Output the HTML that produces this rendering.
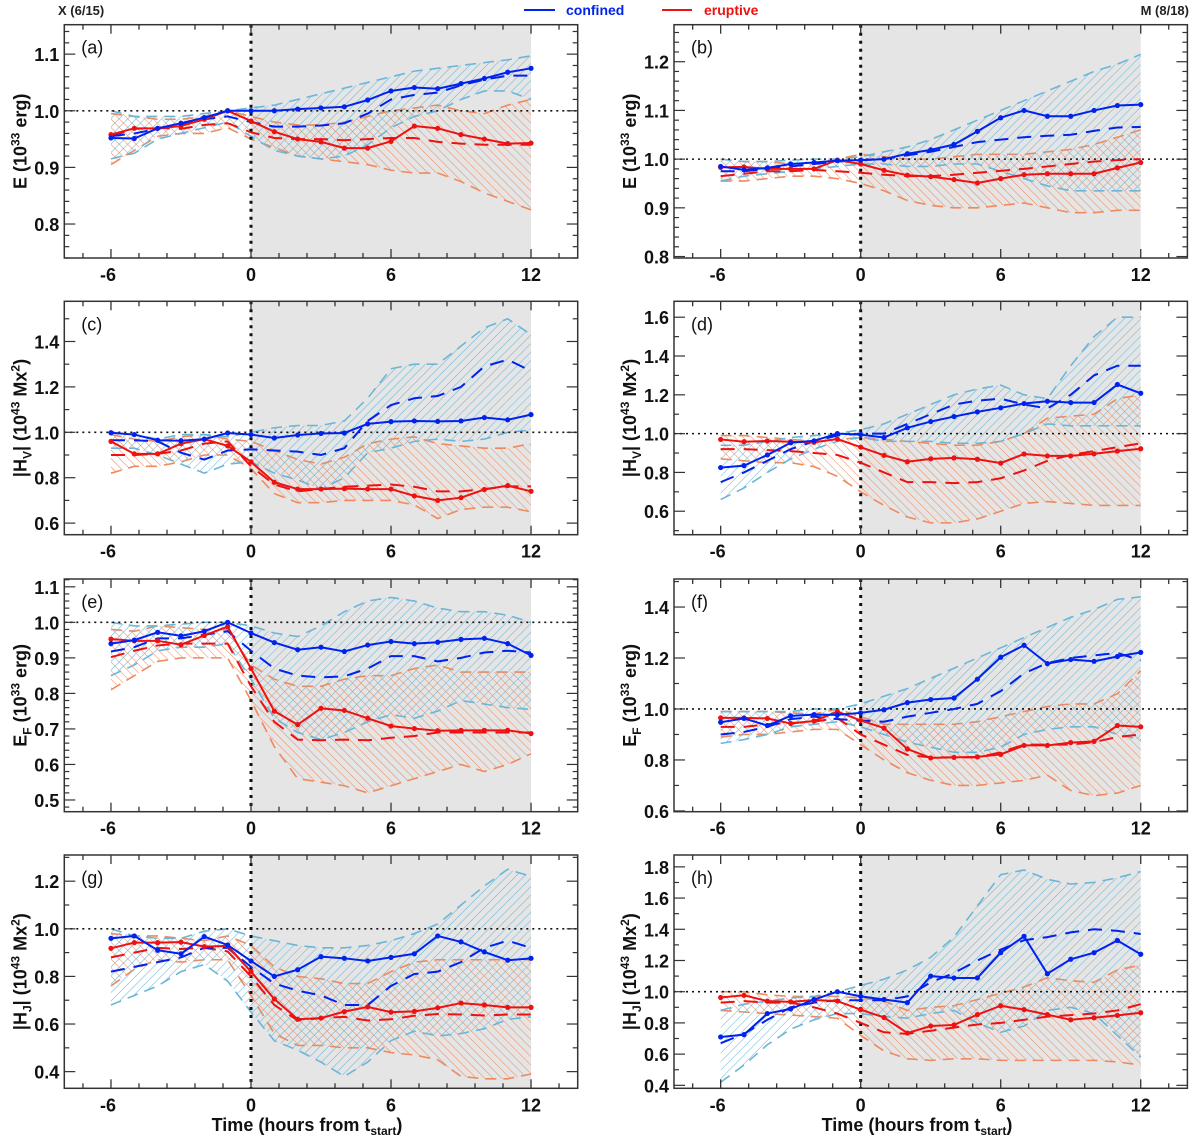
<!DOCTYPE html>
<html><head><meta charset="utf-8"><title>Energy and helicity evolution</title>
<style>
html,body{margin:0;padding:0;background:#fff;}
svg{display:block;font-family:"Liberation Sans",Arial,sans-serif;}
</style></head>
<body>
<svg id="chart" width="1200" height="1139" viewBox="0 0 1200 1139" xmlns="http://www.w3.org/2000/svg">
<defs>
<pattern id="hatchBlue" patternUnits="userSpaceOnUse" width="6" height="6" patternTransform="rotate(45)">
<line x1="0" y1="0" x2="0" y2="6" stroke="#6bb6d8" stroke-width="1.1"/>
</pattern>
<pattern id="hatchRed" patternUnits="userSpaceOnUse" width="6" height="6" patternTransform="rotate(-45)">
<line x1="0" y1="0" x2="0" y2="6" stroke="#ee8a5e" stroke-width="1.1"/>
</pattern>
</defs>
<g>
<text x="58" y="15" font-size="13" font-weight="bold" fill="#222">X (6/15)</text>
<line x1="524" y1="10" x2="555" y2="10" stroke="#0022ee" stroke-width="2"/>
<text x="566" y="15" font-size="14" font-weight="bold" fill="#0022ee">confined</text>
<line x1="662" y1="10" x2="692" y2="10" stroke="#ee1111" stroke-width="2"/>
<text x="704" y="15" font-size="14" font-weight="bold" fill="#ee1111">eruptive</text>
<text x="1189" y="15" font-size="13" font-weight="bold" fill="#222" text-anchor="end">M (8/18)</text>
</g>
<text x="307" y="1131" font-size="18" font-weight="bold" text-anchor="middle" fill="#111">Time  (hours from t<tspan font-size="12" dy="4">start</tspan><tspan dy="-4">)</tspan></text>
<text x="917" y="1131" font-size="18" font-weight="bold" text-anchor="middle" fill="#111">Time  (hours from t<tspan font-size="12" dy="4">start</tspan><tspan dy="-4">)</tspan></text>
</svg>
<script>
const hours = [-6,-5,-4,-3,-2,-1,0,1,2,3,4,5,6,7,8,9,10,11,12];
const xTicks = [-6,0,6,12];

// panel (a)
const a_conf = [0.952,0.951,0.969,0.978,0.988,1.0,1.0,1.0,1.003,1.005,1.007,1.019,1.035,1.041,1.039,1.048,1.057,1.068,1.075];
const a_erup = [0.958,0.969,0.969,0.973,0.985,1.0,0.982,0.963,0.950,0.945,0.934,0.934,0.946,0.973,0.969,0.958,0.950,0.942,0.943];
const a_confMed = [0.955,0.96,0.968,0.975,0.985,0.99,0.98,0.972,0.972,0.974,0.978,0.995,1.02,1.028,1.032,1.045,1.055,1.062,1.062];
const a_erupMed = [0.955,0.968,0.97,0.968,0.975,0.978,0.962,0.952,0.95,0.95,0.948,0.95,0.952,0.952,0.945,0.942,0.94,0.94,0.94];
const a_confHi = [1.0,0.99,0.99,0.99,0.995,1.0,1.005,1.01,1.02,1.03,1.04,1.05,1.06,1.07,1.075,1.08,1.085,1.09,1.097];
const a_confLo = [0.915,0.925,0.95,0.96,0.97,0.98,0.955,0.93,0.92,0.915,0.92,0.94,0.97,0.99,1.0,1.02,1.035,1.035,1.02];
const a_erupHi = [0.995,0.99,0.985,0.985,0.99,1.0,0.99,0.98,0.975,0.975,0.98,0.99,1.0,1.005,1.01,1.0,0.995,1.01,1.02];
const a_erupLo = [0.905,0.93,0.955,0.96,0.96,0.97,0.95,0.935,0.92,0.915,0.91,0.905,0.895,0.89,0.89,0.875,0.855,0.84,0.825];
const a_ticks = [0.8,0.9,1.0,1.1];

// panel (b)
const b_conf = [0.985,0.978,0.982,0.99,0.993,0.997,0.998,1.0,1.011,1.019,1.03,1.057,1.085,1.1,1.088,1.088,1.1,1.11,1.112];
const b_erup = [0.983,0.984,0.98,0.98,0.98,0.998,0.99,0.977,0.967,0.964,0.958,0.951,0.96,0.968,0.97,0.97,0.97,0.982,0.993];
const b_confMed = [0.975,0.975,0.98,0.985,0.99,0.995,0.998,1.0,1.008,1.015,1.025,1.035,1.04,1.045,1.048,1.05,1.058,1.065,1.066];
const b_erupMed = [0.965,0.97,0.975,0.975,0.978,0.975,0.972,0.968,0.965,0.965,0.968,0.972,0.976,0.98,0.985,0.99,0.995,0.998,1.0];
const b_confHi = [1.0,0.995,0.995,0.998,1.0,1.0,1.005,1.015,1.025,1.04,1.06,1.08,1.1,1.12,1.14,1.16,1.18,1.195,1.215];
const b_confLo = [0.955,0.965,0.97,0.975,0.98,0.985,0.99,0.99,0.985,0.985,0.99,0.99,0.975,0.96,0.945,0.935,0.935,0.935,0.935];
const b_erupHi = [1.0,0.995,0.995,0.99,0.99,1.0,1.01,1.005,1.0,1.0,1.005,1.01,1.01,1.01,1.015,1.02,1.03,1.045,1.06];
const b_erupLo = [0.955,0.955,0.96,0.965,0.965,0.96,0.95,0.935,0.915,0.905,0.9,0.9,0.905,0.91,0.9,0.89,0.89,0.895,0.895];
const b_ticks = [0.8,0.9,1.0,1.1,1.2];

// panel (c)
const c_conf = [0.998,0.99,0.965,0.963,0.97,0.997,0.99,0.975,0.988,0.995,0.997,1.037,1.047,1.05,1.048,1.05,1.065,1.055,1.078];
const c_erup = [0.96,0.905,0.905,0.95,0.97,0.94,0.87,0.78,0.75,0.75,0.752,0.75,0.75,0.72,0.70,0.712,0.748,0.765,0.74];
const c_confMed = [0.965,0.965,0.96,0.91,0.88,0.92,0.925,0.92,0.915,0.9,0.93,1.05,1.12,1.15,1.16,1.2,1.29,1.32,1.27];
const c_erupMed = [0.9,0.9,0.905,0.92,0.95,0.96,0.85,0.77,0.74,0.75,0.76,0.765,0.77,0.76,0.74,0.74,0.75,0.762,0.762];
const c_confHi = [1.0,0.99,0.97,0.99,0.99,0.98,1.0,1.02,1.03,1.03,1.05,1.15,1.28,1.3,1.3,1.38,1.46,1.5,1.43];
const c_confLo = [0.93,0.93,0.9,0.86,0.82,0.86,0.87,0.82,0.79,0.75,0.8,0.91,0.93,0.96,0.97,0.96,0.97,1.0,1.01];
const c_erupHi = [0.99,0.97,0.96,0.98,0.99,0.97,0.96,0.92,0.88,0.86,0.89,0.95,0.97,0.98,0.95,0.94,0.93,0.93,0.95];
const c_erupLo = [0.82,0.85,0.85,0.87,0.9,0.9,0.84,0.73,0.69,0.69,0.7,0.7,0.7,0.68,0.62,0.66,0.67,0.67,0.65];
const c_ticks = [0.6,0.8,1.0,1.2,1.4];

// panel (d)
const d_conf = [0.825,0.835,0.89,0.953,0.963,1.0,0.995,0.98,1.03,1.062,1.088,1.112,1.133,1.155,1.167,1.16,1.16,1.253,1.208];
const d_erup = [0.97,0.958,0.962,0.958,0.955,0.972,0.93,0.888,0.855,0.87,0.875,0.868,0.848,0.895,0.885,0.885,0.896,0.91,0.922];
const d_confMed = [0.75,0.8,0.86,0.92,0.96,0.99,1.0,1.0,1.05,1.1,1.15,1.17,1.18,1.15,1.13,1.2,1.3,1.35,1.35];
const d_erupMed = [0.92,0.92,0.915,0.91,0.9,0.89,0.85,0.8,0.75,0.75,0.745,0.75,0.77,0.81,0.86,0.89,0.91,0.93,0.95];
const d_confHi = [0.94,0.94,0.96,0.98,0.99,1.0,1.02,1.05,1.1,1.15,1.2,1.23,1.25,1.2,1.18,1.35,1.5,1.6,1.6];
const d_confLo = [0.66,0.72,0.8,0.87,0.92,0.96,0.98,0.96,0.96,0.96,0.95,0.95,0.96,1.0,1.05,1.04,1.04,1.04,1.04];
const d_erupHi = [0.99,0.99,0.98,0.97,0.96,0.97,0.98,0.97,0.96,0.95,0.94,0.94,0.96,1.0,1.08,1.09,1.1,1.18,1.2];
const d_erupLo = [0.87,0.86,0.85,0.85,0.83,0.78,0.7,0.63,0.57,0.54,0.54,0.56,0.6,0.64,0.65,0.64,0.63,0.63,0.63];
const d_ticks = [0.6,0.8,1.0,1.2,1.4,1.6];

// panel (e)
const e_conf = [0.94,0.95,0.972,0.962,0.975,1.0,0.97,0.943,0.923,0.93,0.918,0.936,0.946,0.94,0.944,0.952,0.955,0.94,0.907];
const e_erup = [0.953,0.948,0.948,0.937,0.963,0.988,0.87,0.75,0.712,0.758,0.752,0.73,0.708,0.701,0.695,0.696,0.696,0.696,0.687];
const e_confMed = [0.918,0.93,0.955,0.955,0.965,0.975,0.92,0.87,0.85,0.845,0.848,0.87,0.905,0.905,0.89,0.9,0.915,0.92,0.915];
const e_erupMed = [0.902,0.92,0.935,0.94,0.94,0.94,0.82,0.72,0.67,0.668,0.67,0.668,0.675,0.68,0.69,0.69,0.69,0.69,0.69];
const e_confHi = [1.0,0.99,0.99,0.995,1.0,1.0,0.99,0.97,0.96,0.99,1.03,1.06,1.07,1.06,1.04,1.03,1.03,1.02,1.0];
const e_confLo = [0.85,0.88,0.92,0.93,0.93,0.94,0.84,0.73,0.69,0.67,0.69,0.72,0.74,0.73,0.75,0.78,0.77,0.76,0.755];
const e_erupHi = [0.98,0.975,0.99,0.985,0.98,0.98,0.88,0.84,0.82,0.82,0.84,0.85,0.85,0.87,0.88,0.86,0.86,0.86,0.86];
const e_erupLo = [0.81,0.85,0.89,0.9,0.9,0.9,0.78,0.65,0.56,0.55,0.54,0.52,0.54,0.56,0.58,0.6,0.58,0.6,0.63];
const e_ticks = [0.5,0.6,0.7,0.8,0.9,1.0,1.1];

// panel (f)
const f_conf = [0.948,0.963,0.935,0.973,0.978,0.977,0.985,0.997,1.025,1.037,1.043,1.117,1.203,1.25,1.178,1.194,1.187,1.206,1.222];
const f_erup = [0.965,0.965,0.963,0.943,0.953,0.99,0.955,0.925,0.843,0.808,0.81,0.812,0.822,0.857,0.857,0.868,0.873,0.935,0.93];
const f_confMed = [0.9,0.91,0.93,0.96,0.97,0.96,0.955,0.95,0.97,0.985,1.0,1.02,1.07,1.14,1.18,1.2,1.21,1.22,1.19];
const f_erupMed = [0.93,0.93,0.94,0.945,0.95,0.965,0.9,0.86,0.82,0.81,0.81,0.81,0.83,0.86,0.86,0.86,0.87,0.89,0.9];
const f_confHi = [0.99,0.99,0.99,0.99,1.0,1.0,1.02,1.05,1.08,1.12,1.16,1.2,1.24,1.28,1.32,1.36,1.39,1.43,1.44];
const f_confLo = [0.865,0.88,0.9,0.93,0.94,0.95,0.93,0.9,0.87,0.85,0.83,0.83,0.85,0.9,0.92,0.93,0.93,0.9,0.88];
const f_erupHi = [0.99,0.99,0.99,0.985,0.98,1.0,0.97,0.94,0.94,0.94,0.94,0.95,0.97,0.99,1.01,1.02,1.02,1.06,1.15];
const f_erupLo = [0.89,0.9,0.9,0.91,0.92,0.92,0.86,0.8,0.75,0.72,0.7,0.7,0.71,0.72,0.74,0.68,0.66,0.67,0.7];
const f_ticks = [0.6,0.8,1.0,1.2,1.4];

// panel (g)
const g_conf = [0.96,0.97,0.91,0.895,0.967,0.932,0.865,0.8,0.828,0.883,0.876,0.865,0.88,0.895,0.97,0.945,0.903,0.868,0.876];
const g_erup = [0.918,0.942,0.942,0.944,0.925,0.928,0.82,0.705,0.62,0.625,0.652,0.672,0.65,0.653,0.668,0.688,0.68,0.67,0.67];
const g_confMed = [0.82,0.84,0.86,0.88,0.92,0.92,0.84,0.77,0.74,0.72,0.68,0.68,0.76,0.81,0.82,0.86,0.92,0.95,0.92];
const g_erupMed = [0.88,0.9,0.92,0.915,0.92,0.905,0.8,0.68,0.615,0.625,0.63,0.615,0.62,0.635,0.642,0.64,0.636,0.64,0.64];
const g_confHi = [1.0,0.97,0.96,0.96,0.99,1.0,0.97,0.95,0.93,0.92,0.92,0.93,0.95,0.98,1.02,1.1,1.18,1.25,1.22];
const g_confLo = [0.68,0.72,0.76,0.82,0.85,0.78,0.65,0.53,0.49,0.44,0.38,0.44,0.53,0.57,0.55,0.56,0.58,0.62,0.63];
const g_erupHi = [0.98,0.97,0.97,0.96,0.95,0.97,0.93,0.84,0.8,0.79,0.77,0.77,0.82,0.86,0.87,0.87,0.87,0.87,0.87];
const g_erupLo = [0.76,0.83,0.87,0.86,0.87,0.87,0.72,0.56,0.51,0.51,0.5,0.5,0.48,0.47,0.45,0.38,0.37,0.37,0.39];
const g_ticks = [0.4,0.6,0.8,1.0,1.2];

// panel (h)
const h_conf = [0.71,0.725,0.86,0.89,0.95,1.0,0.97,0.95,0.93,1.1,1.088,1.088,1.25,1.355,1.115,1.208,1.25,1.328,1.24];
const h_erup = [0.963,0.977,0.94,0.935,0.947,0.94,0.885,0.835,0.735,0.78,0.787,0.853,0.91,0.885,0.853,0.82,0.833,0.848,0.865];
const h_confMed = [0.67,0.73,0.82,0.9,0.93,0.945,0.945,0.945,0.97,1.06,1.12,1.2,1.27,1.33,1.35,1.38,1.4,1.39,1.37];
const h_erupMed = [0.93,0.94,0.93,0.93,0.9,0.86,0.8,0.74,0.73,0.75,0.77,0.79,0.8,0.82,0.84,0.85,0.86,0.88,0.92];
const h_confHi = [0.88,0.92,0.94,0.96,0.97,1.0,1.04,1.08,1.14,1.22,1.35,1.55,1.75,1.78,1.72,1.69,1.7,1.73,1.77];
const h_confLo = [0.42,0.53,0.66,0.76,0.82,0.86,0.86,0.84,0.83,0.86,0.88,0.8,0.74,0.78,0.88,0.9,0.86,0.72,0.58];
const h_erupHi = [1.0,1.0,0.98,0.97,0.97,0.97,0.96,0.94,0.88,0.9,0.91,0.95,0.99,1.03,1.09,1.07,1.06,1.14,1.17];
const h_erupLo = [0.88,0.87,0.86,0.85,0.84,0.83,0.72,0.62,0.57,0.56,0.57,0.57,0.56,0.56,0.56,0.56,0.56,0.55,0.53];
const h_ticks = [0.4,0.6,0.8,1.0,1.2,1.4,1.6,1.8];

const NS = "http://www.w3.org/2000/svg";
const svg = document.getElementById("chart");
function mk(tag, attrs, parent){
  const el = document.createElementNS(NS, tag);
  for (const k in attrs) el.setAttribute(k, attrs[k]);
  (parent||svg).appendChild(el);
  return el;
}

const panels = [
  {id:"a", col:0, top:24.7, bot:258, ymin:0.74, ymax:1.152, ticks:a_ticks, minor:0.02, ylab:"E", conf:a_conf, erup:a_erup, cm:a_confMed, em:a_erupMed, ch:a_confHi, cl:a_confLo, eh:a_erupHi, el:a_erupLo},
  {id:"b", col:1, top:24.7, bot:258, ymin:0.797, ymax:1.276, ticks:b_ticks, minor:0.02, ylab:"E", conf:b_conf, erup:b_erup, cm:b_confMed, em:b_erupMed, ch:b_confHi, cl:b_confLo, eh:b_erupHi, el:b_erupLo},
  {id:"c", col:0, top:301.3, bot:534.7, ymin:0.549, ymax:1.577, ticks:c_ticks, minor:0.1, ylab:"HV", conf:c_conf, erup:c_erup, cm:c_confMed, em:c_erupMed, ch:c_confHi, cl:c_confLo, eh:c_erupHi, el:c_erupLo},
  {id:"d", col:1, top:301.3, bot:534.7, ymin:0.479, ymax:1.682, ticks:d_ticks, minor:0.1, ylab:"HV", conf:d_conf, erup:d_erup, cm:d_confMed, em:d_erupMed, ch:d_confHi, cl:d_confLo, eh:d_erupHi, el:d_erupLo},
  {id:"e", col:0, top:579, bot:811.7, ymin:0.467, ymax:1.122, ticks:e_ticks, minor:0.02, ylab:"EF", conf:e_conf, erup:e_erup, cm:e_confMed, em:e_erupMed, ch:e_confHi, cl:e_confLo, eh:e_erupHi, el:e_erupLo},
  {id:"f", col:1, top:579, bot:811.7, ymin:0.597, ymax:1.51, ticks:f_ticks, minor:0.1, ylab:"EF", conf:f_conf, erup:f_erup, cm:f_confMed, em:f_erupMed, ch:f_confHi, cl:f_confLo, eh:f_erupHi, el:f_erupLo},
  {id:"g", col:0, top:855, bot:1088.3, ymin:0.33, ymax:1.31, ticks:g_ticks, minor:0.1, ylab:"HJ", conf:g_conf, erup:g_erup, cm:g_confMed, em:g_erupMed, ch:g_confHi, cl:g_confLo, eh:g_erupHi, el:g_erupLo},
  {id:"h", col:1, top:855, bot:1088.3, ymin:0.381, ymax:1.876, ticks:h_ticks, minor:0.1, ylab:"HJ", conf:h_conf, erup:h_erup, cm:h_confMed, em:h_erupMed, ch:h_confHi, cl:h_confLo, eh:h_erupHi, el:h_erupLo}
];

const XMIN=-8, XMAX=14;
const BLUE="#0022ee", RED="#ee1111", LBLUE="#6bb6d8", LRED="#ee8a5e";

panels.forEach(p=>{
  const left = p.col===0 ? 64.3 : 674;
  const right = left + 513.4;
  const sx = t => left + (t - XMIN) / (XMAX - XMIN) * (right - left);
  const sy = v => p.bot - (v - p.ymin) / (p.ymax - p.ymin) * (p.bot - p.top);
  const g = mk("g", {});
  
  
  const clipId = "clip" + p.id;
  const cp = mk("clipPath", {id: clipId}, g);
  mk("rect", {x:left, y:p.top, width:right-left, height:p.bot-p.top}, cp);
  const inner = mk("g", {"clip-path":"url(#"+clipId+")"}, g);

  const shade = mk("rect", {x:sx(0), y:p.top, width:sx(12)-sx(0), height:p.bot-p.top, fill:"#e5e5e5"}, inner);
  
  

  function band(hi, lo, fillId, color, name){
    let pts = hours.map((t,i)=>sx(t)+","+sy(hi[i]));
    for (let i=hours.length-1;i>=0;i--) pts.push(sx(hours[i])+","+sy(lo[i]));
    const poly = mk("polygon", {points: pts.join(" "), fill:"url(#"+fillId+")", stroke:"none"}, inner);
    
    
    [hi, lo].forEach(arr=>{
      const edge = mk("polyline", {points: hours.map((t,i)=>sx(t)+","+sy(arr[i])).join(" "), fill:"none", stroke:color, "stroke-width":1.6, "stroke-dasharray":"11 7"}, inner);
      
      
    });
  }
  band(p.eh, p.el, "hatchRed", LRED, "eruptive-range-band");
  band(p.ch, p.cl, "hatchBlue", LBLUE, "confined-range-band");

  const hl = mk("line", {x1:left, x2:right, y1:sy(1), y2:sy(1), stroke:"#111", "stroke-width":1.6, "stroke-dasharray":"2 4"}, inner);
  
  
  const vl = mk("line", {x1:sx(0), x2:sx(0), y1:p.top, y2:p.bot, stroke:"#111", "stroke-width":3, "stroke-dasharray":"3 5"}, inner);
  
  

  function med(arr, color, name){
    const l = mk("polyline", {points: hours.map((t,i)=>sx(t)+","+sy(arr[i])).join(" "), fill:"none", stroke:color, "stroke-width":2, "stroke-dasharray":"14 9"}, inner);
    
    
  }
  med(p.em, RED, "eruptive-median-line");
  med(p.cm, BLUE, "confined-median-line");

  function mean(arr, color, name){
    const l = mk("polyline", {points: hours.map((t,i)=>sx(t)+","+sy(arr[i])).join(" "), fill:"none", stroke:color, "stroke-width":2}, inner);
    
    
    hours.forEach((t,i)=>{
      const c = mk("circle", {cx:sx(t), cy:sy(arr[i]), r:2.6, fill:color}, inner);
      
      
    });
  }
  mean(p.erup, RED, "eruptive-mean-line");
  mean(p.conf, BLUE, "confined-mean-line");

  // frame
  const fr = mk("rect", {x:left, y:p.top, width:right-left, height:p.bot-p.top, fill:"none", stroke:"#333", "stroke-width":1.5}, g);
  
  

  // x ticks: major every 6, minor every 1.2
  for (let t=-7.2; t<=13.3; t+=1.2){
    const tt = Math.round(t*10)/10;
    const major = xTicks.some(v=>Math.abs(v-tt)<0.01);
    const len = major ? 9 : 5;
    mk("line", {x1:sx(tt), x2:sx(tt), y1:p.bot, y2:p.bot-len, stroke:"#333", "stroke-width":1.3}, g);
    mk("line", {x1:sx(tt), x2:sx(tt), y1:p.top, y2:p.top+len, stroke:"#333", "stroke-width":1.3}, g);
  }
  xTicks.forEach(v=>{
    const tl = mk("text", {x:sx(v) - (v<0?3:0), y:p.bot+23, "font-size":18, "font-weight":"bold", "text-anchor":"middle", fill:"#111"}, g);
    tl.textContent = (v<0 ? "-" + Math.abs(v) : String(v));
    
    
  });

  // y ticks
  const step = p.ticks[1]-p.ticks[0];
  for (let v=Math.ceil(p.ymin/p.minor)*p.minor; v<=p.ymax+1e-9; v+=p.minor){
    const vv = Math.round(v*1000)/1000;
    const major = Math.abs(vv/step - Math.round(vv/step))<1e-6;
    const len = major ? 11 : 5;
    mk("line", {x1:left, x2:left+len, y1:sy(vv), y2:sy(vv), stroke:"#333", "stroke-width":1.2}, g);
    mk("line", {x1:right, x2:right-len, y1:sy(vv), y2:sy(vv), stroke:"#333", "stroke-width":1.2}, g);
  }
  p.ticks.forEach(v=>{
    const tl = mk("text", {x:left-5, y:sy(v)+7, "font-size":18, "font-weight":"bold", "text-anchor":"end", fill:"#111"}, g);
    tl.textContent = v.toFixed(1);
    
    
  });

  // panel letter
  const pl = mk("text", {x:left+17, y:p.top+29, "font-size":18, fill:"#111"}, g);
  pl.textContent = "(" + p.id + ")";
  
  

  // y-axis title
  const cy = (p.top+p.bot)/2;
  const yt = mk("text", {x:0, y:0, "font-size":18, "font-weight":"bold", "text-anchor":"middle", fill:"#111", transform:"translate("+(left-38)+","+cy+") rotate(-90)"}, g);
  
  
  if (p.ylab==="E") yt.innerHTML = 'E (10<tspan font-size="12" dy="-7">33</tspan><tspan dy="7"> erg)</tspan>';
  else if (p.ylab==="EF") yt.innerHTML = 'E<tspan font-size="12" dy="5">F</tspan><tspan dy="-5"> (10</tspan><tspan font-size="12" dy="-7">33</tspan><tspan dy="7"> erg)</tspan>';
  else if (p.ylab==="HV") yt.innerHTML = '|H<tspan font-size="12" dy="5">V</tspan><tspan dy="-5">| (10</tspan><tspan font-size="12" dy="-7">43</tspan><tspan dy="7"> Mx</tspan><tspan font-size="12" dy="-7">2</tspan><tspan dy="7">)</tspan>';
  else yt.innerHTML = '|H<tspan font-size="12" dy="5">J</tspan><tspan dy="-5">| (10</tspan><tspan font-size="12" dy="-7">43</tspan><tspan dy="7"> Mx</tspan><tspan font-size="12" dy="-7">2</tspan><tspan dy="7">)</tspan>';
});
</script>
</body></html>
